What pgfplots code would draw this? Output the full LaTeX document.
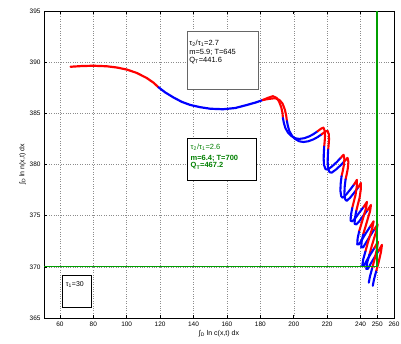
\documentclass[border=0pt]{standalone}
\usepackage{fontspec}
\setmainfont{Liberation Sans}
\usepackage{pgfplots}
\pgfplotsset{compat=1.18}
\usepackage{pgfplotstable}
\definecolor{mgreen}{rgb}{0,0.5,0}
\definecolor{lgreen}{rgb}{0,0.62,0}

\newcommand{\sseg}[2]{%
  \addplot[#1, line width=2.2pt, no marks, line join=round, line cap=round] table[row sep=\\] {#2};}
\newcommand{\dseg}[2]{%
  \addplot[#1, line width=2.1pt, no marks, line join=round, line cap=round] table[row sep=\\, x expr=\thisrow{x}-1.2, y expr=\thisrow{y}+0.15] {#2};
  \addplot[#1, line width=2.1pt, no marks, line join=round, line cap=round] table[row sep=\\, x expr=\thisrow{x}+1.2, y expr=\thisrow{y}-0.15] {#2};}

\begin{document}
\begin{tikzpicture}
\path[use as bounding box] (-44bp,-26bp) rectangle (357bp,318bp);
\begin{axis}[
  scale only axis, width=350bp, height=307bp,
  xmin=50.5, xmax=260, ymin=365, ymax=395,
  xtick={60,80,...,240,250,260}, ytick={365,370,...,395},
  tick align=inside, major tick length=3bp,
  grid=major, grid style={dotted, black!45, line width=0.5pt},
  axis line style={line width=0.7pt},
  tick style={black, line width=0.6pt},
  ticklabel style={font=\fontsize{6.5}{7.5}\selectfont},
  /pgf/number format/assume math mode=true,
  /pgf/number format/1000 sep={},
  label style={font=\fontsize{7}{8}\selectfont},
  xlabel={∫\textsubscript{D} ln c(x,t) dx},
  ylabel={∫\textsubscript{D} ln n(x,t) dx},
  xlabel style={yshift=3bp},
  ylabel style={yshift=-3bp},
]
% single part
\sseg{red}{x y\\ 66.4 389.55\\ 73 389.62\\ 80 389.65\\ 88 389.6\\ 94 389.48\\ 100 389.28\\ 106 388.95\\ 112 388.45\\ 116 388.0\\ 119 387.55\\}
\sseg{blue}{x y\\ 119 387.55\\ 123 387.05\\ 128 386.55\\ 133 386.12\\ 138 385.82\\ 144 385.6\\ 150 385.45\\ 157.7 385.4\\ 165 385.52\\ 172 385.82\\ 177 386.05\\ 181.5 386.3\\}
% first red arc: two strokes that part after the peak
\addplot[red, line width=2.1pt, no marks, line join=round, line cap=round] coordinates {(181.5,386.3) (184.3,386.5) (187.5,386.68) (189.8,386.5) (191.2,386.15) (192.5,385.6) (193.3,385.0) (193.5,384.55)};
\addplot[red, line width=2.1pt, no marks, line join=round, line cap=round] coordinates {(181.5,386.3) (184.7,386.4) (188.8,386.48) (191.5,386.3) (193.3,385.95) (194.7,385.35) (195.5,384.75) (195.9,384.25)};
% doubled part
\dseg{blue}{x y\\ 194.7 384.4\\ 195.3 383.9\\ 196.2 383.4\\ 197.8 382.95\\ 199.6 382.65\\ 202 382.42\\ 204.5 382.35\\ 207.5 382.42\\ 210.5 382.6\\ 213 382.82\\ 215.5 383.1\\}
\dseg{red}{x y\\ 215.5 383.1\\ 217.5 383.35\\ 219.0 383.45\\ 219.8 383.1\\ 219.9 382.6\\ 219.7 382.1\\ 219.4 381.6\\}
\dseg{blue}{x y\\ 219.4 381.6\\ 219.2 381.0\\ 219.1 380.4\\ 219.3 379.8\\ 220.2 379.4\\ 221.5 379.35\\ 224 379.65\\ 227 380.1\\ 229.3 380.5\\}
\dseg{red}{x y\\ 229.3 380.5\\ 231.0 380.8\\ 231.5 380.4\\ 231.2 379.8\\ 230.5 379.2\\ 229.8 378.7\\}
\dseg{blue}{x y\\ 229.8 378.7\\ 229.3 378.0\\ 229.1 377.3\\ 229.6 376.75\\ 230.5 376.6\\ 232.5 376.9\\ 235 377.4\\ 237.3 377.9\\}
\dseg{red}{x y\\ 237.3 377.9\\ 239.0 378.35\\ 239.0 377.8\\ 238.2 376.9\\ 237.1 376.2\\ 236.2 375.6\\}
\dseg{blue}{x y\\ 236.2 375.6\\ 235.4 374.9\\ 235.2 374.35\\ 236.3 374.3\\ 238 374.6\\ 240.2 375.1\\ 243 375.7\\}
\dseg{red}{x y\\ 243 375.7\\ 245.0 376.2\\ 244.5 375.6\\ 243.2 374.9\\ 241.6 374.0\\ 240.3 373.3\\}
\dseg{blue}{x y\\ 240.3 373.3\\ 239.4 372.6\\ 239.2 372.05\\ 240.3 372.05\\ 242 372.5\\ 244.2 373.1\\ 247 373.8\\}
\dseg{red}{x y\\ 247 373.8\\ 249.0 374.3\\ 248.3 373.7\\ 247.0 373.0\\ 245.5 372.2\\ 244.1 371.35\\}
\dseg{blue}{x y\\ 244.1 371.35\\ 242.8 370.6\\ 242.2 369.95\\ 243.2 369.95\\ 245 370.5\\ 247.2 371.1\\ 249.5 371.7\\}
\dseg{red}{x y\\ 249.5 371.7\\ 251.6 372.3\\ 251.0 371.6\\ 249.6 370.6\\ 248.1 369.7\\}
\dseg{blue}{x y\\ 248.1 369.7\\ 246.8 368.9\\ 246.1 368.3\\}
% green L line
\addplot[lgreen, line width=1.3pt, no marks] coordinates {(50.5,370) (250,370)};
\addplot[lgreen, line width=2pt, no marks] coordinates {(250,370) (250,395)};
% boxes
\draw[black!60, line width=0.9pt, fill=white] (axis cs:136.2,392.99) rectangle (axis cs:179.1,387.3);
\node[anchor=west, inner sep=0pt, font=\fontsize{7.5}{9}\selectfont] at (axis cs:137.4,391.85) {τ\textsubscript{2}/τ\textsubscript{1}=2.7};
\node[anchor=west, inner sep=0pt, font=\fontsize{7.5}{9}\selectfont] at (axis cs:137.4,390.95) {m=5.9; T=645};
\node[anchor=west, inner sep=0pt, font=\fontsize{7.5}{9}\selectfont] at (axis cs:137.4,390.2) {Q\textsubscript{T}=441.6};
\draw[black, line width=0.9pt, fill=white] (axis cs:136.2,382.58) rectangle (axis cs:177.9,378.44);
\node[anchor=west, inner sep=0pt, text=mgreen, font=\fontsize{7.5}{9}\selectfont] at (axis cs:138.2,381.65) {τ\textsubscript{2}/τ\textsubscript{1}=2.6};
\node[anchor=west, inner sep=0pt, text=mgreen, font=\fontsize{7.5}{9}\bfseries] at (axis cs:138.2,380.55) {m=6.4; T=700};
\node[anchor=west, inner sep=0pt, text=mgreen, font=\fontsize{7.5}{9}\bfseries] at (axis cs:138.2,379.85) {Q\textsubscript{T}=467.2};
\draw[black, line width=0.9pt, fill=white] (axis cs:61.4,369.13) rectangle (axis cs:78.7,366.07);
\node[anchor=west, inner sep=0pt, font=\fontsize{7}{8}\selectfont] at (axis cs:63.5,368.25) {τ\textsubscript{1}=30};
\end{axis}
\end{tikzpicture}
\end{document}
